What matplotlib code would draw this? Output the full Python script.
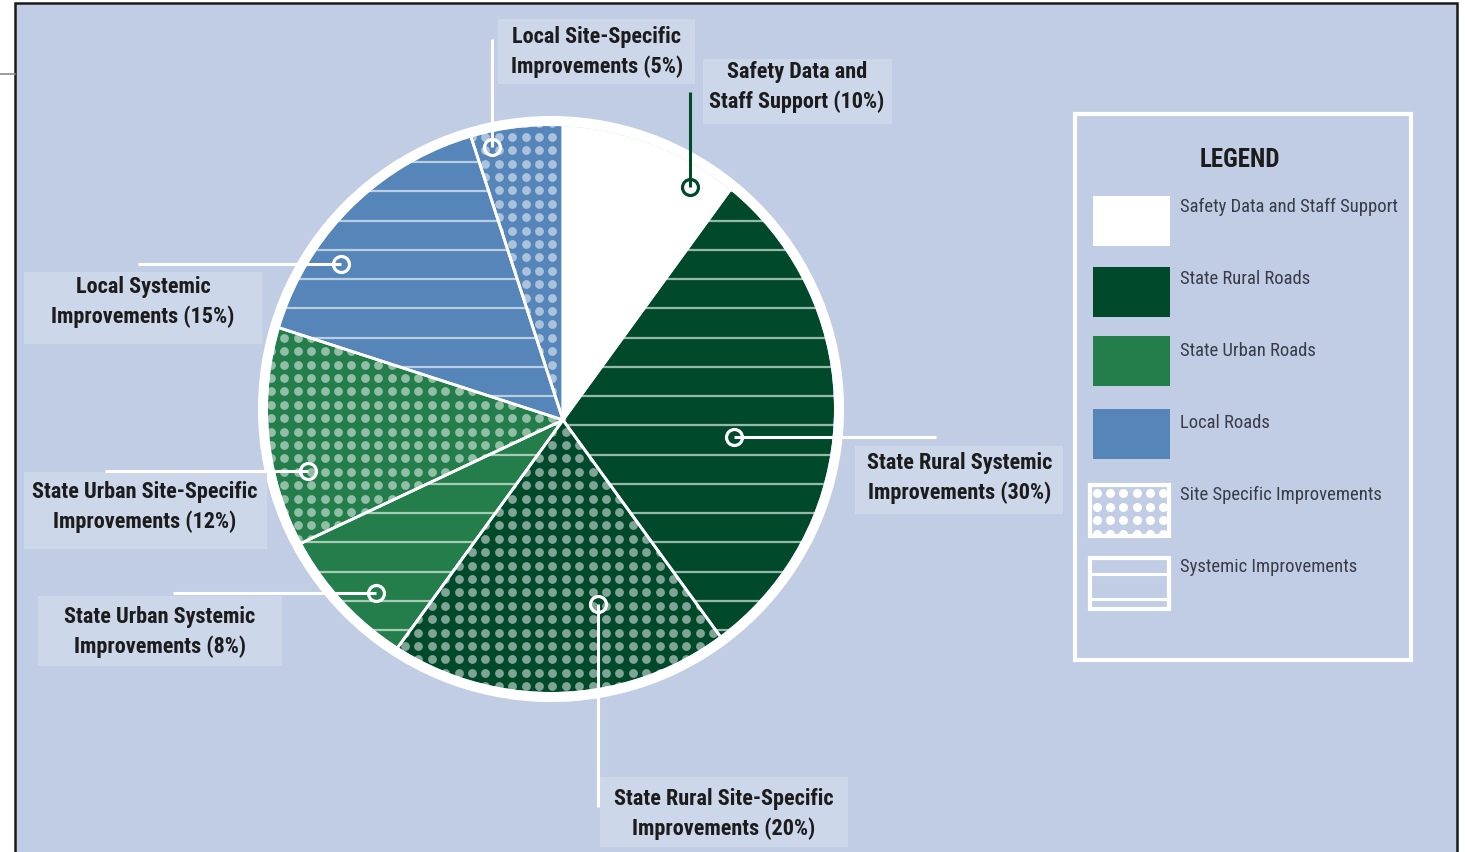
import matplotlib
matplotlib.use("Agg")
import matplotlib.pyplot as plt
from matplotlib.patches import Circle, Rectangle, Wedge, Annulus
from matplotlib import font_manager as fm
import numpy as np

# ---------------- data ----------------
categories = ["Safety Data and Staff Support",
              "State Rural Systemic Improvements",
              "State Rural Site-Specific Improvements",
              "State Urban Systemic Improvements",
              "State Urban Site-Specific Improvements",
              "Local Systemic Improvements",
              "Local Site-Specific Improvements"]
shares = [10, 30, 20, 8, 12, 15, 5]
road_type = ["support", "rural", "rural", "urban", "urban", "local", "local"]
pattern = ["none", "systemic", "site", "systemic", "site", "systemic", "site"]
label_lines = ["Safety Data and\nStaff Support",
               "State Rural Systemic\nImprovements",
               "State Rural Site-Specific\nImprovements",
               "State Urban Systemic\nImprovements",
               "State Urban Site-Specific\nImprovements",
               "Local Systemic\nImprovements",
               "Local Site-Specific\nImprovements"]
legend_labels = ["Safety Data and Staff Support", "State Rural Roads",
                 "State Urban Roads", "Local Roads",
                 "Site Specific Improvements", "Systemic Improvements"]

# ---------------- styles ----------------
W, H = 1465, 853
BG = "#C1CDE4"
BOX = "#CDD7EA"
type_colors = {"support": "#FFFFFF", "rural": "#004A2B",
               "urban": "#237E4B", "local": "#5585B9"}

# pick a condensed font if one is installed
ttf = fm.fontManager.ttflist
names = {f.name for f in ttf}
FAMILY, STRETCH = "Liberation Sans", "normal"
for cand in ["Liberation Sans Narrow", "Roboto Condensed", "Open Sans Condensed",
             "DejaVu Sans Condensed", "Noto Sans Condensed"]:
    if cand in names:
        FAMILY, STRETCH = cand, "normal"
        break
else:
    cond = [f for f in ttf if str(f.stretch) in ("condensed", "semi-condensed")]
    if cond:
        FAMILY, STRETCH = cond[0].name, cond[0].stretch

def Y(y):
    return H - y

fig = plt.figure(figsize=(W / 100, H / 100), dpi=100)
fig.patch.set_facecolor("white")
ax = fig.add_axes([0, 0, 1, 1])
renderer = fig.canvas.get_renderer()

def fit_size(text, target_px, weight):
    t = fig.text(0, 0, text, fontsize=10, family=FAMILY, stretch=STRETCH, fontweight=weight)
    w = t.get_window_extent(renderer).width
    t.remove()
    return 10 * target_px / w

LABEL_FS = min(fit_size("State Urban Site-Specific", 232, "bold"), 16)
LEG_FS = min(fit_size("Safety Data and Staff Support", 218, "normal"), 14)
TITLE_FS = min(fit_size("LEGEND", 84, "bold"), 18)

colors = [type_colors[t] for t in road_type]
ring_c = (551, Y(410))
ring_r_out = 293
pie_r = 283
conv = (563, Y(421))

wedges, _ = ax.pie(shares, center=conv, radius=305, startangle=90,
                   counterclock=False, colors=colors,
                   wedgeprops=dict(edgecolor="none", linewidth=0, zorder=2))
ax.set_xlim(0, W)
ax.set_ylim(0, H)
ax.set_aspect("auto")
ax.axis("off")

# panel
ax.add_patch(Rectangle((15, Y(853 + 5)), 1442, 853 + 5 - 4, facecolor=BG,
                       edgecolor="#1a1a1a", linewidth=1.8, zorder=0))
ax.plot([0, 15], [Y(75), Y(75)], color="#8a8a8a", lw=1.2, zorder=0)

line_ys = np.arange(163 - 29.25 * 5, 900, 29.25)
gx = np.arange(0, W, 13.4)
gy = np.arange(0, H, 13.4)
GX, GY = np.meshgrid(gx + 3, gy + 5)

for w, pat in zip(wedges, pattern):
    w.set_clip_on(True)
    w.set_clip_path(Circle(ring_c, pie_r, transform=ax.transData))
    if pat == "systemic":
        for yy in line_ys:
            ln, = ax.plot([200, 900], [Y(yy), Y(yy)], color="white", alpha=0.6,
                          lw=1.6, zorder=3, solid_capstyle="butt")
            ln.set_clip_path(w)
    elif pat == "site":
        sc = ax.scatter(GX.ravel(), GY.ravel(), s=40, color="white", alpha=0.5,
                        linewidths=0, zorder=3)
        sc.set_clip_path(w)

# mask outside of the pie and the white rim
ax.add_patch(Annulus(ring_c, 340, 340 - ring_r_out, facecolor=BG, edgecolor="none", zorder=3.5))
ax.add_patch(Annulus(ring_c, ring_r_out, ring_r_out - pie_r, facecolor="white",
                     edgecolor="none", zorder=3.6))

for w in wedges:
    e = Wedge(w.center, w.r, w.theta1, w.theta2, facecolor="none",
              edgecolor="white", linewidth=2.0, zorder=4)
    ax.add_patch(e)
    e.set_clip_path(Circle(ring_c, pie_r, transform=ax.transData))

# ---------------- labels ----------------
label_pos = [(797, 87), (960, 478), (724, 814), (160, 632), (145, 507), (143, 302), (597, 52)]
label_box = [(703, 60, 892, 125), (855, 447, 1063, 515), (600, 778, 848, 848),
             (38, 597, 282, 667), (24, 473, 267, 550), (24, 273, 262, 345),
             (498, 20, 695, 85)]
leaders = [((690, 93), (690, 188)), ((734, 438), (936, 438)), ((598, 605), (598, 808)),
           ((173, 594), (376, 594)), ((105, 472), (308, 472)), ((138, 265), (341, 265)),
           ((492, 40), (492, 148))]
markers = [(690, 188), (734, 438), (598, 605), (376, 594), (308, 472), (341, 265), (492, 148)]

for i, (txt, sh) in enumerate(zip(label_lines, shares)):
    lc = "#004A2B" if road_type[i] == "support" else "white"
    bx0, by0, bx1, by1 = label_box[i]
    ax.add_patch(Rectangle((bx0, Y(by1)), bx1 - bx0, by1 - by0, facecolor=BOX,
                           edgecolor="none", zorder=5))
    (x0, y0), (x1, y1) = leaders[i]
    ax.plot([x0, x1], [Y(y0), Y(y1)], color=lc, lw=2.2, zorder=5, solid_capstyle="butt")
    mx, my = markers[i]
    ax.plot(mx, Y(my), marker="o", markersize=11.5, markerfacecolor="none",
            markeredgecolor=lc, markeredgewidth=2.3, zorder=6)
    tx, ty = label_pos[i]
    ax.text(tx, Y(ty), f"{txt} ({sh}%)", ha="center", va="center",
            fontsize=LABEL_FS, fontweight="bold", family=FAMILY, stretch=STRETCH,
            color="#1c1c1c", linespacing=1.42, zorder=7)

# ---------------- legend ----------------
ax.add_patch(Rectangle((1075, Y(661)), 336, 661 - 115, facecolor="none",
                       edgecolor="white", linewidth=3.0, zorder=5))
ax.text(1240, Y(160), "LEGEND", ha="center", va="center", fontsize=TITLE_FS,
        fontweight="bold", family=FAMILY, stretch=STRETCH, color="#1c1c1c", zorder=6)
sw_tops = [197, 268, 337, 410, 486, 559]
sw_fill = [type_colors["support"], type_colors["rural"], type_colors["urban"],
           type_colors["local"], None, None]
txt_y = [207, 279, 351, 423, 495, 567]
for i, lab in enumerate(legend_labels):
    top = sw_tops[i]
    if sw_fill[i] is not None:
        ax.add_patch(Rectangle((1093, Y(top + 50)), 77, 50, facecolor=sw_fill[i],
                               edgecolor="none", zorder=6))
    else:
        r = Rectangle((1090, Y(top + 51)), 79, 51, facecolor=BG,
                      edgecolor="white", linewidth=3.0, zorder=6)
        ax.add_patch(r)
        if i == 4:
            xs = np.arange(1097, 1170, 13.2)
            ys = np.arange(top + 8, top + 51, 13.5)
            XX, YY = np.meshgrid(xs, ys)
            sc = ax.scatter(XX.ravel(), [Y(v) for v in YY.ravel()], s=42,
                            color="white", linewidths=0, zorder=7)
            sc.set_clip_path(r)
        else:
            for yy in (top + 16, top + 41):
                ax.plot([1090, 1169], [Y(yy), Y(yy)], color="white", lw=2.2, zorder=7)
    ax.text(1180, Y(txt_y[i]), lab, ha="left", va="center", fontsize=LEG_FS,
            family=FAMILY, stretch=STRETCH, color="#383b48", zorder=7)

fig.savefig("out.png", dpi=100, facecolor="white")
